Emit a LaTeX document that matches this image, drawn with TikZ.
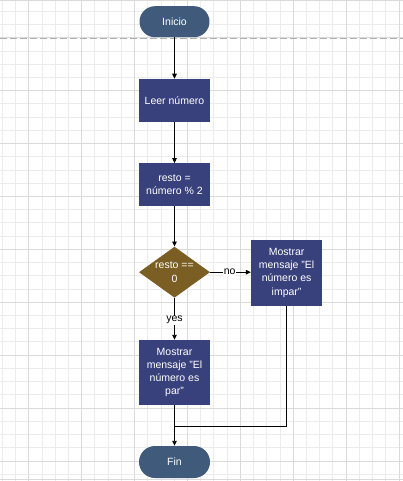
\documentclass[tikz,border=0pt]{standalone}
\usepackage{fontspec}
\setmainfont{Liberation Sans}
\usetikzlibrary{shapes.geometric,arrows.meta}
\definecolor{termcol}{RGB}{64,90,123}
\definecolor{proccol}{RGB}{56,65,124}
\definecolor{deccol}{RGB}{122,94,36}
\definecolor{gridminor}{RGB}{236,236,236}
\definecolor{gridmajor}{RGB}{218,218,218}
\definecolor{dashcol}{RGB}{176,176,176}
\tikzset{
  txt/.style={text=white,font=\fontsize{10.5}{13.3}\selectfont,align=center},
  term/.style={txt,fill=termcol,rounded corners=15.5pt,minimum width=70pt,minimum height=31pt,inner sep=0pt},
  proc/.style={txt,fill=proccol,minimum width=71pt,inner sep=0pt},
  dec/.style={diamond,fill=deccol,minimum width=71pt,minimum height=51pt,inner sep=0pt},
  conn/.style={black,line width=0.9pt,-{Triangle[length=5pt,width=4.5pt]}},
  plain/.style={black,line width=0.9pt},
  lbl/.style={font=\fontsize{10.5}{12}\selectfont,fill=white,inner sep=0.5pt}
}
\begin{document}
\begin{tikzpicture}[x=1pt,y=-1pt]
\useasboundingbox (0,0) rectangle (403,481);
\fill[white] (0,0) rectangle (403,481);
% grid
\foreach \i in {0,...,30} {\draw[gridminor,line width=0.8pt] ({2.25+13.225*\i},0) -- ({2.25+13.225*\i},481);}
\foreach \j in {0,...,35} {\draw[gridminor,line width=0.8pt] (0,{11.25+13.225*\j}) -- (403,{11.25+13.225*\j});}
\foreach \i in {0,...,7} {\draw[gridmajor,line width=0.8pt] ({28.7+52.9*\i},0) -- ({28.7+52.9*\i},481);}
\foreach \j in {0,...,8} {\draw[gridmajor,line width=0.8pt] (0,{37.7+52.9*\j}) -- (403,{37.7+52.9*\j});}
\draw[gridmajor,line width=0.8pt] (0,0.7) -- (403,0.7);
\draw[gridmajor,line width=0.8pt] (0,479.3) -- (403,479.3);
\draw[dashcol,line width=0.9pt,dash pattern=on 7pt off 3pt] (0,38.3) -- (403,38.3);
% nodes
\node[term] (ini) at (174.5,21.7) {Inicio};
\node[proc,minimum height=42.7pt] (leer) at (174.5,100.3) {Leer número};
\node[proc,minimum height=42.3pt] (resto) at (174.5,184.5) {resto =\\número \% 2};
\node[dec,label={[txt]center:resto ==\\0}] (dec) at (174.5,272.2) {};
\node[proc,minimum height=65.7pt] (impar) at (286.6,272.8) {Mostrar\\mensaje "El\\número es\\impar"};
\node[proc,minimum height=65pt] (par) at (174.5,372.5) {Mostrar\\mensaje "El\\número es\\par"};
\node[term,minimum width=71pt,minimum height=32pt,rounded corners=16pt] (fin) at (174.5,462) {Fin};
\coordinate (join) at (174.5,426.7);
% connectors
\draw[conn] (ini) -- (leer);
\draw[conn] (leer) -- (resto);
\draw[conn] (resto) -- (dec);
\draw[conn] (dec.east) -- node[lbl,pos=0.48] {no} (dec.east -| impar.west);
\draw[conn] (dec.south) -- node[lbl,pos=0.53] {yes} (par.north);
\draw[conn] (par) -- (fin);
\draw[plain] (impar.south) |- (join);
\end{tikzpicture}
\end{document}
